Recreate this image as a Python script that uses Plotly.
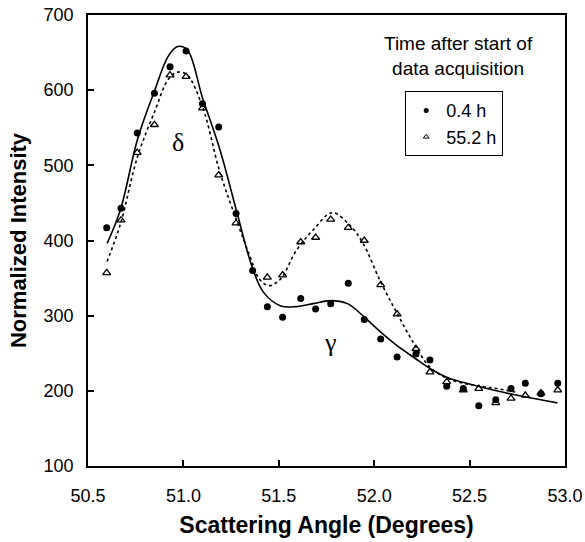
import plotly.graph_objects as go

# Measured data (Scattering angle in degrees, normalized intensity)
x_04h = [50.598, 50.673, 50.758, 50.848, 50.93, 51.014, 51.1, 51.185, 51.276, 51.363,
         51.44, 51.52, 51.615, 51.693, 51.772, 51.864, 51.948, 52.034, 52.12, 52.219,
         52.292, 52.38, 52.467, 52.548, 52.637, 52.717, 52.792, 52.874, 52.962]
y_04h = [417, 443, 543, 596, 631, 652, 582, 551, 436, 360,
         312, 298, 323, 309, 316, 343, 295, 269, 245, 249,
         241, 206, 203, 180, 188, 203, 210, 196, 210]

x_552h = [50.598, 50.673, 50.758, 50.848, 50.93, 51.014, 51.1, 51.185, 51.276,
          51.44, 51.52, 51.615, 51.693, 51.772, 51.864, 51.948, 52.034, 52.12, 52.219,
          52.292, 52.38, 52.467, 52.548, 52.637, 52.717, 52.792, 52.874, 52.962]
y_552h = [357, 427, 517, 554, 620, 618, 576, 487, 423,
          351, 354, 398, 404, 428, 417, 400, 341, 302, 256,
          225, 212, 201, 203, 184, 190, 194, 197, 201]

# Fitted curves
fit_x_04h = [50.60, 50.67, 50.76, 50.85, 50.92, 50.97, 51.02, 51.10, 51.19, 51.28, 51.36,
             51.42, 51.51, 51.59, 51.68, 51.77, 51.86, 51.94, 52.03, 52.12, 52.21, 52.29,
             52.38, 52.47, 52.56, 52.73, 52.96]
fit_y_04h = [396, 441, 535, 600, 645, 658, 654, 590, 522, 438, 365,
             331, 313, 312, 316, 320, 316, 300, 279, 260, 244, 230,
             218, 211, 205, 195, 184]

fit_x_552h = [50.60, 50.67, 50.76, 50.85, 50.92, 50.97, 51.02, 51.10, 51.19, 51.28, 51.35,
              51.40, 51.45, 51.51, 51.59, 51.68, 51.78, 51.87, 51.94, 52.03, 52.12, 52.21,
              52.29, 52.38, 52.47, 52.56, 52.64, 52.75]
fit_y_552h = [372, 422, 512, 572, 614, 624, 620, 578, 492, 426, 378,
              348, 340, 349, 386, 414, 437, 421, 397, 347, 303, 262,
              232, 217, 210, 206, 203, 198]

x_ticks = [50.5, 51.0, 51.5, 52.0, 52.5, 53.0]
x_ticklabels = ["50.5", "51.0", "51.5", "52.0", "52.5", "53.0"]
y_ticks = [100, 200, 300, 400, 500, 600, 700]

series_names = ["0.4 h", "55.2 h"]

fig = go.Figure()

fig.add_trace(go.Scatter(x=fit_x_04h, y=fit_y_04h, mode="lines", line_shape="spline",
                         line=dict(color="black", width=1.6), showlegend=False, hoverinfo="skip"))
fig.add_trace(go.Scatter(x=fit_x_552h, y=fit_y_552h, mode="lines", line_shape="spline",
                         line=dict(color="black", width=1.6, dash="dot"), showlegend=False, hoverinfo="skip"))

fig.add_trace(go.Scatter(x=x_04h, y=y_04h, mode="markers", name=series_names[0],
                         marker=dict(symbol="circle", size=7, color="black"), showlegend=False))
fig.add_trace(go.Scatter(x=x_552h, y=y_552h, mode="markers", name=series_names[1],
                         marker=dict(symbol="triangle-up-open", size=7, color="black",
                                     line=dict(width=1.3, color="black")), showlegend=False))

# Legend-only entries with small markers
fig.add_trace(go.Scatter(x=[None], y=[None], mode="markers", name=series_names[0],
                         marker=dict(symbol="circle", size=5, color="black")))
fig.add_trace(go.Scatter(x=[None], y=[None], mode="markers", name=series_names[1],
                         marker=dict(symbol="triangle-up-open", size=5, color="black",
                                     line=dict(width=1, color="black"))))

font_family = "Liberation Sans, Arial, sans-serif"

fig.update_layout(
    width=585, height=542,
    margin=dict(l=88, r=20, t=15, b=76),
    paper_bgcolor="white", plot_bgcolor="white",
    font=dict(family=font_family, color="black", size=18),
    legend=dict(x=0.665, y=0.831, xanchor="left", yanchor="top",
                bordercolor="black", borderwidth=1, bgcolor="white",
                font=dict(size=18, family=font_family), tracegroupgap=2),
    xaxis=dict(range=[50.5, 53.0], tickvals=x_ticks, ticktext=x_ticklabels,
               ticks="inside", ticklen=6, tickwidth=1.5, tickcolor="black",
               showline=True, linecolor="black", linewidth=1.8, mirror=True,
               showgrid=False, zeroline=False, ticklabelstandoff=12, automargin=False,
               ticklabeloverflow="allow", tickfont=dict(size=18),
               title=dict(text="<b>Scattering Angle (Degrees)</b>", font=dict(size=23), standoff=12)),
    yaxis=dict(range=[100, 700], tickvals=y_ticks,
               ticks="inside", ticklen=6, tickwidth=1.5, tickcolor="black",
               showline=True, linecolor="black", linewidth=1.8, mirror=True,
               showgrid=False, zeroline=False, ticklabelstandoff=9, automargin=False,
               ticklabeloverflow="allow", tickfont=dict(size=18),
               title=dict(text="<b>Normalized Intensity</b>", font=dict(size=22), standoff=11)),
)

fig.add_annotation(xref="paper", yref="paper", x=(458 - 88) / 477, y=(466 - 56) / 451,
                   text="Time after start of<br>data acquisition", showarrow=False,
                   font=dict(size=19, family=font_family), align="center",
                   xanchor="center", yanchor="middle")

fig.add_annotation(x=50.97, y=530, text="δ", showarrow=False,
                   font=dict(size=26, family="Liberation Serif, Times New Roman, serif"))
fig.add_annotation(x=51.77, y=264, text="γ", showarrow=False,
                   font=dict(size=26, family="Liberation Serif, Times New Roman, serif"))

fig.write_html("out.html", config={"displayModeBar": False},
               post_script="document.body.style.margin='0';")
